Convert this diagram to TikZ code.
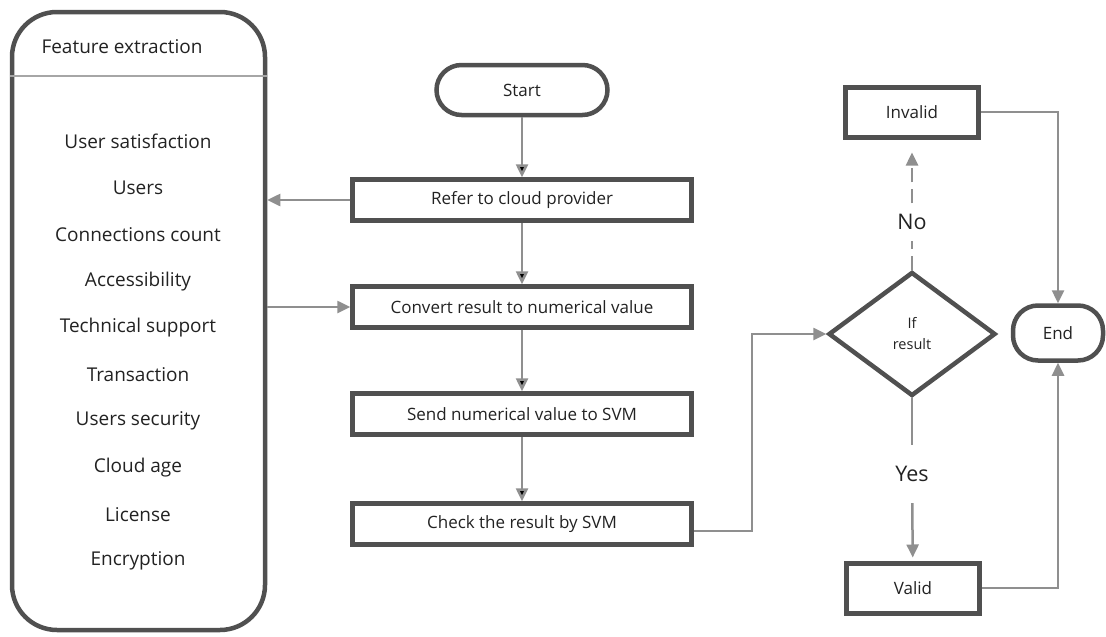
\documentclass[tikz,border=0pt]{standalone}
\usepackage{fontspec}
\setmainfont{Open Sans}
\usetikzlibrary{arrows.meta,positioning,shapes.geometric}

\definecolor{boxgray}{HTML}{505050}
\definecolor{linegray}{HTML}{8F8F8F}
\definecolor{txtgray}{HTML}{222222}

\tikzset{
  box/.style={draw=boxgray,line width=4.5pt,rectangle,minimum width=339pt,
    minimum height=41pt,text=txtgray,font=\fontsize{17}{20}\selectfont},
  term/.style={draw=boxgray,line width=4.5pt,rectangle,rounded corners=25pt,
    text=txtgray,font=\fontsize{17}{20}\selectfont},
  outcome/.style={draw=boxgray,line width=5pt,rectangle,minimum width=133pt,
    minimum height=50pt,text=txtgray,font=\fontsize{17}{20}\selectfont},
  item/.style={text=txtgray,font=\fontsize{19}{22}\selectfont},
  answer/.style={text=txtgray,fill=white,font=\fontsize{21.5}{25}\selectfont},
  conn/.style={draw=linegray,line width=2.5pt},
  >={Triangle[length=13pt,width=12pt]}
}

\begin{document}
\begin{tikzpicture}[x=1pt,y=-1pt,on grid,node distance=107pt]
 \useasboundingbox (0,0) rectangle (1106,637);
 % feature list
 \node[draw=boxgray,line width=4.5pt,rounded corners=45pt,minimum width=253pt,
   minimum height=618pt] (feat) at (138.5,321) {};
 \node[item,anchor=west] (feat_t) at (38,47) {Feature extraction};
 \coordinate (hdr) at (0,76);
 \draw[draw=gray!70,line width=2pt] (feat.west |- hdr) -- (feat.east |- hdr);
 \foreach \t [count=\i] in {User satisfaction,Users,Connections count,
   Accessibility,Technical support,Transaction,Users security,Cloud age,
   License,Encryption}
   \node[item] (f\i) at (138,{141+46.7*(\i-1)}) {\t};

 % main flow
 \node[box] (refer) at (522,200) {Refer to cloud provider};
 \node[term,minimum width=171pt,minimum height=50pt] (start)
   [above=110pt of refer] {Start};
 \node[box] (convert) [below=of refer] {Convert result to numerical value};
 \node[box] (send) [below=of convert] {Send numerical value to SVM};
 \node[box] (check) [below=110pt of send] {Check the result by SVM};

 % decision
 \node[diamond,draw=boxgray,line width=4.5pt,minimum width=167pt,
   minimum height=124pt,align=center,text=txtgray,
   font=\fontsize{14.5}{21}\selectfont] (cond) at (912,334) {If\\result};
 \node[outcome] (invalid) at (912,112) {Invalid};
 \node[outcome] (valid) at (913,588) {Valid};
 \node[term,minimum width=90pt,minimum height=55pt] (end) at (1058,333) {End};
 \node[answer,minimum height=37pt] (no) at (912,222) {No};
 \node[answer,minimum height=58pt] (yes) at (912,474) {Yes};
 \coordinate (elbow) at (752,334);

 \path[conn,->]
  (start) edge (refer)
  (refer) edge (convert)
  (convert) edge (send)
  (send) edge (check);
 \draw[conn,->] (refer.west) -- (refer.west -| feat.east);
 \draw[conn,->] (convert.west -| feat.east) -- (convert.west);
 \draw[conn,->] ([yshift=-7pt]check.east) -| (elbow) -- (cond.west);
 \draw[conn,dash pattern=on 14pt off 7pt] (cond.north) -- (no);
 \draw[conn,dash pattern=on 14pt off 7pt,->,shorten >=13pt] (no) -- (invalid);
 \draw[conn] (cond.south) -- (yes);
 \draw[conn,->,shorten >=3pt] (yes) -- (valid);
 \draw[conn,->] (invalid.east) -| (end.north);
 \draw[conn,->] (valid.east) -| (end.south);
\end{tikzpicture}
\end{document}
